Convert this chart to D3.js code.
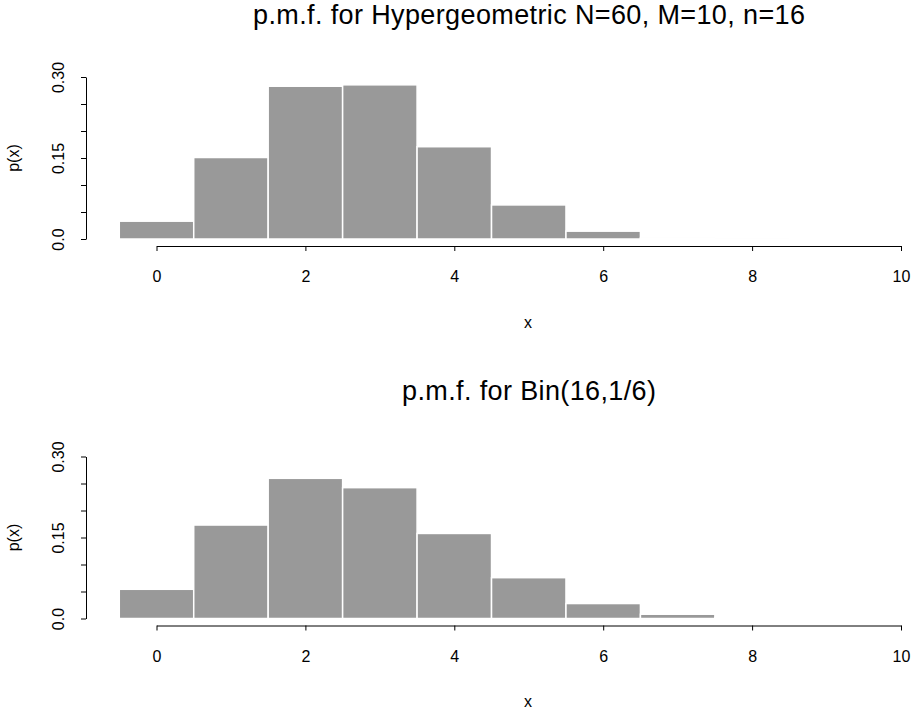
<!DOCTYPE html>
<html>
<head>
<meta charset="utf-8">
<script src="https://cdn.jsdelivr.net/npm/d3@7"></script>
<style>
  body { margin: 0; background: #fff; }
  text { font-family: "Liberation Sans", Arial, sans-serif; fill: #000; }
</style>
</head>
<body>
<div class="chart"></div>
<script>
// values
const xValues = [0, 1, 2, 3, 4, 5, 6, 7, 8, 9, 10];
const hyperProbs = [0.0330, 0.1509, 0.2829, 0.2855, 0.1709, 0.0631, 0.0145, 0.0020, 0.0002, 0.0000, 0.0000];
const binProbs = [0.0541, 0.1731, 0.2596, 0.2423, 0.1575, 0.0756, 0.0277, 0.0079, 0.0018, 0.0003, 0.0000];
const xTicks = [0, 2, 4, 6, 8, 10];
const yTicks = [0, 0.05, 0.10, 0.15, 0.20, 0.25, 0.30];
const yTickLabels = {0: '0.0', 0.15: '0.15', 0.3: '0.30'};
const titles = ['p.m.f. for Hypergeometric N=60, M=10, n=16', 'p.m.f. for Bin(16,1/6)'];

const width = 911;
const height = 710;

const svg = d3
    .select('.chart')
    .append('svg')
    .attr('width', width)
    .attr('height', height);

const xScale = d3.scaleLinear()
    .domain([0, 10])
    .range([156.5, 901]);

function drawPanel(probs, title, top, titleY, titleWidth) {
    const g = svg.append('g')
        .attr('transform', 'translate(0,' + top + ')');

    const yScale = d3.scaleLinear()
        .domain([0, 0.30])
        .range([239, 77]);

    g.selectAll('rect')
        .data(xValues)
        .enter()
        .append('rect')
        .attr('x', d => xScale(d - 0.5))
        .attr('width', d => xScale(d + 0.5) - xScale(d - 0.5))
        .attr('y', (d, i) => yScale(probs[i]))
        .attr('height', (d, i) => yScale(0) - yScale(probs[i]))
        .attr('fill', '#999999')
        .attr('stroke', '#fff')
        .attr('stroke-width', 1.5);

    const x_axis = d3.axisBottom(xScale)
        .tickValues(xTicks)
        .tickSizeInner(5)
        .tickSizeOuter(0)
        .tickPadding(20);

    const x_container = g.append('g')
        .attr('transform', 'translate(0,246)')
        .call(x_axis);
    x_container.selectAll('text')
        .attr('font-size', 16)
        .attr('font-family', '"Liberation Sans", Arial, sans-serif');

    const y_axis = d3.axisLeft(yScale)
        .tickValues(yTicks)
        .tickSizeInner(5)
        .tickSizeOuter(0)
        .tickFormat(d => yTickLabels[Math.round(d * 100) / 100] || '');

    const y_container = g.append('g')
        .attr('transform', 'translate(86,0)')
        .call(y_axis);
    y_container.selectAll('.tick text')
        .attr('font-size', 16)
        .attr('font-family', '"Liberation Sans", Arial, sans-serif')
        .attr('x', null)
        .attr('dy', null)
        .attr('text-anchor', 'middle')
        .attr('transform', 'translate(-22,0) rotate(-90)');

    g.selectAll('.domain, .tick line')
        .attr('stroke', '#000')
        .attr('stroke-width', 1);

    // R centres the title on the plot region
    g.append('text')
        .attr('x', 529)
        .attr('y', titleY)
        .attr('text-anchor', 'middle')
        .attr('font-size', 27)
        .attr('textLength', titleWidth)
        .attr('lengthAdjust', 'spacing')
        .text(title);

    g.append('text')
        .attr('x', 528)
        .attr('y', 327.5)
        .attr('text-anchor', 'middle')
        .attr('font-size', 16)
        .text('x');

    g.append('text')
        .attr('transform', 'translate(19,' + (yScale(0.15)) + ') rotate(-90)')
        .attr('text-anchor', 'middle')
        .attr('font-size', 16)
        .text('p(x)');
}

drawPanel(hyperProbs, titles[0], 0, 24, 552);
drawPanel(binProbs, titles[1], 379.5, 20.5, 254);
</script>
</body>
</html>
